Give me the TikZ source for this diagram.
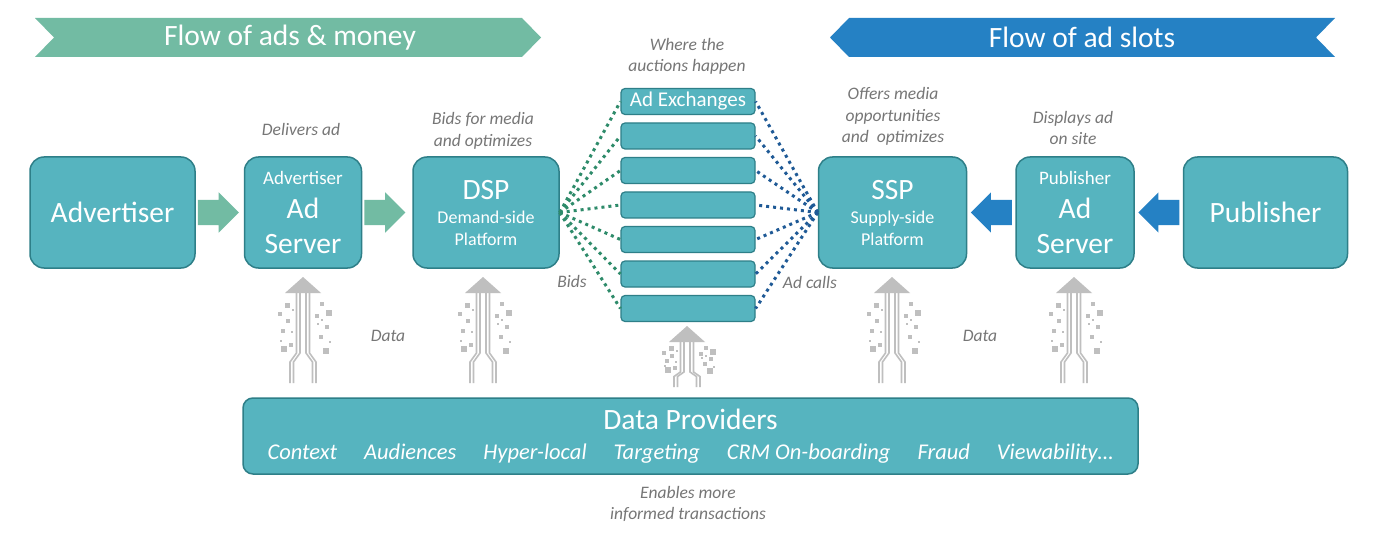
\documentclass[tikz,border=0pt]{standalone}
\usepackage{fontspec}
\setmainfont{Carlito}
\usetikzlibrary{shapes,shapes.arrows,positioning,calc}
\definecolor{boxteal}{HTML}{56B4BF}
\definecolor{boxedge}{HTML}{2E7F88}
\definecolor{flowgreen}{HTML}{72BBA3}
\definecolor{flowblue}{HTML}{2581C4}
\definecolor{dotgreen}{HTML}{2E8B6A}
\definecolor{dotblue}{HTML}{1F5A96}
\definecolor{capgray}{HTML}{767676}
\definecolor{datagray}{HTML}{BFBFBF}

% data icon: centre x, top y, stem length factor
\newcommand{\dataicon}[3]{%
  \begin{scope}[shift={(#1,#2)}]
    \fill[datagray] (0,0) -- (18,16) -- (-18,16) -- cycle;
    \foreach \a/\b in {-6.5/-13,-3/-9.5,3/9.5,6.5/13}
      \draw[datagray,line width=1.6pt] (\a,16) -- (\a,{16+60*#3}) -- (\b,{16+69*#3}) -- (\b,{16+90*#3});
    \foreach \p/\q/\sz in {-16/28/5,-23/37/4,-10/33/2,-15/44/4,-20/54/4,-11/55/2,-22/64/2,-12/68/4,-19/72/5.5,
                           19/27/4,26/36/5.5,14/39/4,19/43/2,24/50/4,15/47/2,18/60/4,27/65/2,23/74/5.5}
      \fill[datagray] ({\p-\sz/2},{16+(\q-16)*#3-\sz/2}) rectangle ++(\sz,\sz);
  \end{scope}}

\begin{document}
\begin{tikzpicture}
  [x=1pt,y=-1pt,
   boxN/.style={rectangle,rounded corners=14pt,draw=boxedge,line width=1.5pt,fill=boxteal,
                text=white,align=center,minimum height=111pt,inner sep=0pt},
   exN/.style={rectangle,rounded corners=4pt,draw=boxedge,line width=1.2pt,fill=boxteal,
               text=white,minimum width=134pt,minimum height=26pt,inner sep=0pt},
   capN/.style={text=capgray,font=\fontsize{17.5}{21.5}\selectfont\itshape,align=center},
   fatG/.style={single arrow,single arrow head extend=7.5pt,fill=flowgreen,minimum height=41pt,
                inner xsep=0pt,inner ysep=12.5pt,outer sep=0pt,anchor=tail},
   fatB/.style={fatG,fill=flowblue,shape border rotate=180},
   dotsG/.style={dotgreen,line width=3pt,dash pattern=on 3pt off 4pt},
   dotsB/.style={dotsG,dotblue},
   node distance=48pt]

  \fill[white] (0,0) rectangle (1400,540);
  \path[use as bounding box] (0,0) rectangle (1400,540);

  % banners
  \fill[flowgreen] (35,18) -- (522,18) -- (541,37.5) -- (522,57) -- (35,57) -- (54,37.5) -- cycle;
  \node[text=white,font=\fontsize{29.5}{32}\selectfont] (flowads) at (290,37.5) {Flow of ads \& money};
  \fill[flowblue] (830,37.5) -- (849,18) -- (1335,18) -- (1316,37.5) -- (1335,57) -- (849,57) -- cycle;
  \node[text=white,font=\fontsize{29.5}{32}\selectfont] (flowslots) at (1082,37.5) {Flow of ad slots};

  % buy side
  \node[boxN,minimum width=165pt,font=\fontsize{29.5}{34}\selectfont] (adv) at (112.5,212.5) {Advertiser};
  \node[boxN,minimum width=117pt,font=\fontsize{29.5}{34.5}\selectfont] (advsrv) [right=of adv]
    {{\fontsize{19}{19}\selectfont Advertiser}\\Ad\\Server};
  \node[boxN,minimum width=146pt,font=\fontsize{18}{22}\selectfont] (dsp) [right=50pt of advsrv]
    {{\fontsize{29.5}{29}\selectfont DSP}\\[2pt]Demand-side\\Platform};

  % sell side
  \node[boxN,minimum width=148pt,font=\fontsize{18}{22}\selectfont] (ssp) at (892.5,212.5)
    {{\fontsize{29.5}{29}\selectfont SSP}\\[2pt]Supply-side\\Platform};
  \node[boxN,minimum width=118pt,font=\fontsize{29.5}{34.5}\selectfont] (pubsrv) [right=of ssp]
    {{\fontsize{19}{19}\selectfont Publisher}\\Ad\\Server};
  \node[boxN,minimum width=164pt,font=\fontsize{29.5}{34}\selectfont] (pub) [right=of pubsrv] {Publisher};

  \node[fatG] (g1) at ([xshift=2pt]adv.east) {};
  \node[fatG] (g2) at ([xshift=2pt]advsrv.east) {};
  \node[fatB] (b1) at ([xshift=-3.5pt]pubsrv.west) {};
  \node[fatB] (b2) at ([xshift=-3.5pt]pub.west) {};

  % exchanges
  \node[exN,font=\fontsize{21}{21}\selectfont] (ex0) at (688,101.5) {Ad Exchanges};
  \foreach \i in {1,...,6}
    \node[exN] (ex\i) at (688,{101.5+34.5*\i}) {};
  \foreach \i in {0,...,6} {
    \draw[dotsG] (dsp.east) -- (ex\i.west);
    \draw[dotsB] (ssp.west) -- (ex\i.east);
  }

  % data providers
  \node[boxN,minimum width=895pt,minimum height=76pt,rounded corners=10pt,font=\fontsize{22.5}{30}\selectfont]
    (dprov) at (690.5,436)
    {{\fontsize{29.5}{29}\selectfont Data Providers}\\
     {\itshape Context\hspace{27pt}Audiences\hspace{27pt}Hyper-local\hspace{27pt}Targeting\hspace{27pt}CRM On-boarding\hspace{27pt}Fraud\hspace{27pt}Viewability…}};

  \dataicon{303}{277}{1}
  \dataicon{483}{277}{1}
  \dataicon{687}{326}{0.5}
  \dataicon{892}{277}{1}
  \dataicon{1074}{277}{1}

  % captions
  \node[capN] (capsrv) at (301,129) {Delivers ad};
  \node[capN] (capdsp) at (483,131) {Bids for media\\and optimizes};
  \node[capN] (capex) at (687,56.5) {Where the\\auctions happen};
  \node[capN] (capssp) at (893,116.5) {Offers media\\opportunities\\and\ \ optimizes};
  \node[capN] (cappub) at (1073,128) {Displays ad\\on site};
  \node[capN] (capbids) at (572,281) {Bids};
  \node[capN] (capcalls) at (810,282) {Ad calls};
  \node[capN] (capdata1) at (388,336) {Data};
  \node[capN] (capdata2) at (980,336) {Data};
  \node[capN] (capenab) at (688,504) {Enables more\\informed transactions};

\end{tikzpicture}
\end{document}
